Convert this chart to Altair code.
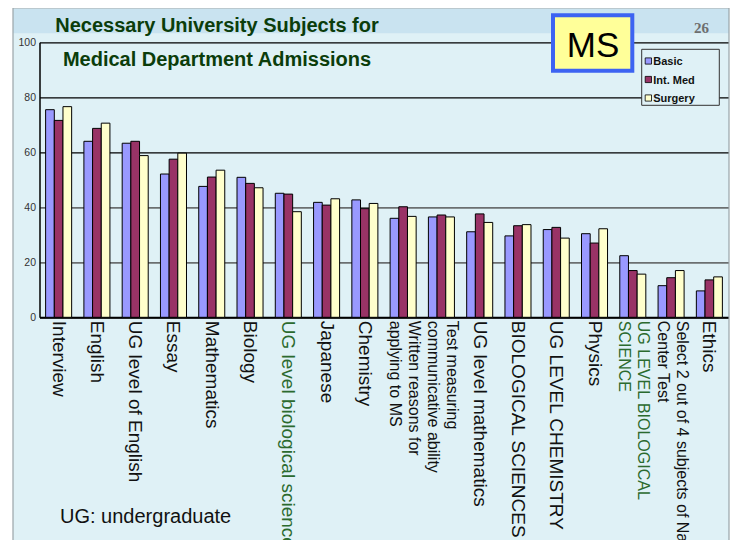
import altair as alt
import pandas as pd

categories = [
    "Interview", "English", "UG level of English", "Essay", "Mathematics",
    "Biology", "UG level biological sciences", "Japanese", "Chemistry",
    "Written reasons for|applying to MS", "Test measuring|communicative ability",
    "UG level mathematics", "BIOLOGICAL SCIENCES", "UG LEVEL CHEMISTRY",
    "Physics", "UG LEVEL BIOLOGICAL|SCIENCE",
    "Select 2 out of 4 subjects of National|Center Test", "Ethics",
]
series = ["Basic", "Int. Med", "Surgery"]
basic = [75.5, 64.0, 63.3, 52.1, 47.6, 50.9, 45.1, 41.8, 42.7, 36.0, 36.5, 31.1, 29.6, 31.9, 30.4, 22.4, 11.5, 9.6]
intmed = [71.6, 68.7, 64.0, 57.5, 51.0, 48.7, 44.8, 40.8, 39.5, 40.2, 37.2, 37.6, 33.3, 32.7, 27.0, 17.0, 14.4, 13.6]
surgery = [76.6, 70.6, 58.8, 59.7, 53.5, 47.1, 38.4, 43.1, 41.4, 36.7, 36.5, 34.5, 33.7, 28.8, 32.2, 15.7, 17.0, 14.7]
colors = ["#9999ff", "#993366", "#ffffcc"]
green_labels = ["UG level biological sciences", "UG LEVEL BIOLOGICAL|SCIENCE"]
title_lines = ["Necessary University Subjects for", "Medical Department Admissions"]

rows = []
for s, vals in zip(series, [basic, intmed, surgery]):
    for c, v in zip(categories, vals):
        rows.append({"cat": c, "series": s, "value": v})
df = pd.DataFrame(rows)

BG = "#dff1f6"
W, H = 689, 275
FONT = "Liberation Sans"

green_test = "indexof(" + str(green_labels) + ", datum.value) >= 0"
multi_test = "indexof(datum.value, '|') >= 0"

one = pd.DataFrame({"k": [0]})


def box(x, x2, y, y2, **kw):
    return alt.Chart(one).mark_rect(**kw).encode(
        x=alt.value(x), x2=alt.value(x2), y=alt.value(y), y2=alt.value(y2)
    )


def label(t, x, y, **kw):
    return alt.Chart(pd.DataFrame({"t": [t]})).mark_text(baseline="alphabetic", **kw).encode(
        text="t:N", x=alt.value(x), y=alt.value(y))


def rule(**enc):
    return alt.Chart(one).mark_rule(color="#9aa4a8", strokeWidth=1.2).encode(
        **{k: alt.value(v) for k, v in enc.items()})


def make(use_offset):
    axis_kw = dict(
        labelAngle=90, labelExpr="split(datum.label, '|')",
        labelFont=FONT,
        labelFontSize={"condition": {"test": multi_test, "value": 16}, "value": 19},
        labelColor={"condition": {"test": green_test, "value": "#2b6a2e"}, "value": "#111111"},
        labelLimit=2000, labelOverlap=False, labelPadding=3, labelLineHeight=19,
        domainColor="black", domainWidth=2, ticks=False, grid=False,
    )
    if use_offset:
        axis_kw["labelOffset"] = {"condition": {"test": multi_test, "value": 10.5}, "value": 0}
    x_enc = alt.X(
        "cat:N", sort=categories, title=None,
        scale=alt.Scale(paddingInner=0.32, paddingOuter=0.16),
        axis=alt.Axis(**axis_kw),
    )
    y_enc = alt.Y(
        "value:Q", title=None,
        scale=alt.Scale(domain=[0, 100], nice=False),
        axis=alt.Axis(
            values=[0, 20, 40, 60, 80, 100], labelFont=FONT, labelFontSize=10.5,
            labelColor="#333333", labelPadding=4, ticks=False,
            domainColor="black", domainWidth=1.5,
            grid=True,
            gridColor={"condition": {"test": "datum.value >= 60", "value": "#000000"}, "value": "#6b6f70"},
            gridWidth={"condition": {"test": "datum.value >= 60", "value": 1.2}, "value": 1.8},
        ),
    )

    bars = alt.Chart(df).mark_bar(stroke="black", strokeWidth=1).encode(
        x=x_enc,
        xOffset=alt.XOffset("series:N", sort=series),
        y=y_enc,
        color=alt.Color("series:N", sort=series,
                        scale=alt.Scale(domain=series, range=colors), legend=None),
    )

    decor = [
        box(-32, -26.5, -35, 500, fill="white"),
        box(689.6, 692, -35, 500, fill="white"),
        box(-26.5, 689.5, -33.5, -9, fill="#c9e3f0"),
        rule(x=-26.5, y=-34.3, y2=500),
        rule(x=689.5, y=-34.3, y2=500),
        rule(x=-26.5, x2=689.5, y=-34.3),
    ]

    titles = [
        label(t, 177.5, yy, font=FONT, fontSize=20, fontWeight="bold", color="#0b3d0b", align="center")
        for t, yy in zip(title_lines, [-10.0, 23.4])
    ]

    ms = [
        box(513.5, 592.8, -27, 28.4, fill="#ffff99", stroke="#3d63f2", strokeWidth=4),
        label("MS", 553.5, 14.4, font=FONT, fontSize=35, color="black", align="center"),
        label("26", 662, -9.6, font="Liberation Serif", fontSize=15, fontWeight="bold",
              color="#6e6e6e", align="center"),
        label("UG: undergraduate", 20.5, 480.4, font=FONT, fontSize=20, color="#111111", align="left"),
    ]

    # legend box, built from the series / colors lists
    LX, LY = 602.2, 7.0
    legend_layers = [box(LX, LX + 77.6, LY, LY + 56, fill=BG, stroke="#333333", strokeWidth=1)]
    for i, (s, c) in enumerate(zip(series, colors)):
        cy = 18.7 + i * 18.5
        legend_layers.append(box(LX + 3.5, LX + 9.8, cy - 3.1, cy + 3.1, fill=c, stroke="black", strokeWidth=0.8))
        legend_layers.append(label(s, LX + 11.5, cy + 4, font=FONT, fontSize=11, fontWeight="bold",
                                   color="#111111", align="left"))

    return alt.layer(
        bars, *decor, *titles, *ms, *legend_layers,
    ).properties(
        width=W, height=H,
        autosize=alt.AutoSizeParams(type="none"),
        padding={"left": 31.5, "top": 34.3, "right": 2.5, "bottom": 222.7},
        background=BG,
    ).configure_view(stroke=None)


try:
    chart = make(True)
    chart.to_dict()
except Exception:
    chart = make(False)

chart.save("out.html", embed_options={"renderer": "svg", "actions": False})
